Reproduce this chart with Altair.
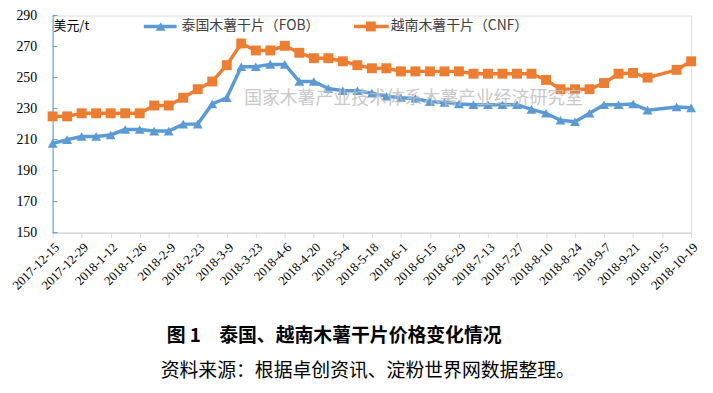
import altair as alt
import pandas as pd

weeks = [
    "2017-12-15", "2017-12-22", "2017-12-29", "2018-1-5", "2018-1-12", "2018-1-19",
    "2018-1-26", "2018-2-2", "2018-2-9", "2018-2-16", "2018-2-23", "2018-3-2",
    "2018-3-9", "2018-3-16", "2018-3-23", "2018-3-30", "2018-4-6", "2018-4-13",
    "2018-4-20", "2018-4-27", "2018-5-4", "2018-5-11", "2018-5-18", "2018-5-25",
    "2018-6-1", "2018-6-8", "2018-6-15", "2018-6-22", "2018-6-29", "2018-7-6",
    "2018-7-13", "2018-7-20", "2018-7-27", "2018-8-3", "2018-8-10", "2018-8-17",
    "2018-8-24", "2018-8-31", "2018-9-7", "2018-9-14", "2018-9-21", "2018-9-28",
    "2018-10-5", "2018-10-12", "2018-10-19",
]

thai = [
    207.5, 210, 212, 212, 213, 216.5, 216.5, 215.5, 215.5, 220, 220, 233,
    237, 257, 257, 258.5, 258.5, 247.5, 247.5, 243, 241.5, 241.5, 240, 238,
    237, 236.5, 234.5, 234, 233, 232.5, 232.5, 232.5, 232.5, 229.5, 227, 222.5,
    221.5, 227, 232.5, 232.5, 233, 229, None, 231, 230.5,
]

viet = [
    225, 225, 227, 227, 227, 227, 227, 232, 232, 237, 242.5, 247.5,
    258, 272, 267.5, 267.5, 270.5, 266, 262.5, 262.5, 260.5, 258, 256, 256,
    254, 254, 254, 254, 254, 252.5, 252.5, 252.5, 252.5, 252.5, 248.5, 242.5,
    242.5, 242.5, 246.5, 252.5, 253, 250, None, 255, 260.5,
]

series_names = ["泰国木薯干片（FOB）", "越南木薯干片（CNF）"]
colors = ["#5B9BD5", "#ED7D31"]
shapes = ["triangle-up", "square"]
y_ticks = [150, 170, 190, 210, 230, 250, 270, 290]
label_weeks = weeks[::2]

unit_text = "美元/t"
watermark_text = "国家木薯产业技术体系木薯产业经济研究室"
fig_no = "图 1"
title_text = "泰国、越南木薯干片价格变化情况"
source_text = "资料来源：根据卓创资讯、淀粉世界网数据整理。"

rows = []
for s, vals in zip(series_names, [thai, viet]):
    for w, v in zip(weeks, vals):
        if v is not None:
            rows.append({"week": w, "series": s, "price": v})
df = pd.DataFrame(rows)

SERIF = "Liberation Serif"
CJK = "Noto Sans CJK SC"

x_enc = alt.X(
    "week:O",
    scale=alt.Scale(type="point", domain=weeks, padding=0),
    sort=None,
    axis=alt.Axis(
        values=label_weeks, labelAngle=-45, labelFont=SERIF, labelFontSize=13,
        labelColor="#000000", domainColor="#D9D9D9", domainWidth=1.5,
        tickColor="#D9D9D9", tickSize=5, tickWidth=1, grid=False, labelPadding=3,
    ),
    title=None,
)
y_axis = alt.Axis(
    values=y_ticks, labelFont=SERIF, labelFontSize=14, labelColor="#000000",
    domainColor="#5B9BD5", domainWidth=1, ticks=False, labelPadding=16, grid=False,
)
y_scale = alt.Scale(domain=[150, 290], nice=False, zero=False)
y_enc = alt.Y("price:Q", scale=y_scale, axis=y_axis, title=None)
color_enc = alt.Color("series:N", scale=alt.Scale(domain=series_names, range=colors), legend=None)
shape_enc = alt.Shape("series:N", scale=alt.Scale(domain=series_names, range=shapes), legend=None)

tick_df = pd.DataFrame({"tick": y_ticks})
ticks = alt.Chart(tick_df).mark_rule(color="#5B9BD5", strokeWidth=1).encode(
    y=alt.Y("tick:Q", scale=y_scale, axis=y_axis, title=None), x=alt.value(0), x2=alt.value(5)
)

lines = alt.Chart(df).mark_line(strokeWidth=3.5).encode(x=x_enc, y=y_enc, color=color_enc)
points = alt.Chart(df).mark_point(filled=True, size=100, opacity=1).encode(
    x=x_enc, y=y_enc, color=color_enc, shape=shape_enc
)

one = pd.DataFrame({"k": [0]})


def text_layer(txt, x, y, size, color="#000000", font=CJK, weight="normal", align="left", opacity=1.0):
    return alt.Chart(one).mark_text(
        text=txt, font=font, fontSize=size, color=color, fontWeight=weight,
        align=align, baseline="middle", opacity=opacity,
    ).encode(x=alt.value(x), y=alt.value(y))


legend_layers = []
leg_specs = [(92, 125, 109, 130), (304, 339, 321, 341)]
for (x1, x2, xm, xt), name, col, shp in zip(leg_specs, series_names, colors, shapes):
    legend_layers.append(
        alt.Chart(one).mark_rule(color=col, strokeWidth=3.5).encode(
            x=alt.value(x1), x2=alt.value(x2), y=alt.value(11)
        )
    )
    legend_layers.append(
        alt.Chart(one).mark_point(filled=True, size=100, opacity=1, color=col, shape=shp).encode(
            x=alt.value(xm), y=alt.value(11)
        )
    )
    legend_layers.append(text_layer(name, xt, 11, 14, color="#404040"))

unit = text_layer(unit_text, 1, 11, 13, color="#000000")
watermark = text_layer(watermark_text, 364, 84, 18, color="#BFBFBF", align="center", opacity=0.85)
fig_label = text_layer(fig_no, 115, 323, 19, weight="bold")
title = text_layer(title_text, 168, 323, 19, weight="bold")
source = text_layer(source_text, 109, 359, 19)

chart = alt.layer(
    ticks, lines, points, *legend_layers, unit, watermark, fig_label, title, source
).properties(
    width=644,
    height=219,
    padding={"left": 45, "top": 6, "right": 14, "bottom": 151},
    autosize=alt.AutoSizeParams(type="none"),
).configure_view(stroke=None).configure(background="#FFFFFF")

chart.save("out.html", embed_options={"renderer": "svg", "actions": False})
